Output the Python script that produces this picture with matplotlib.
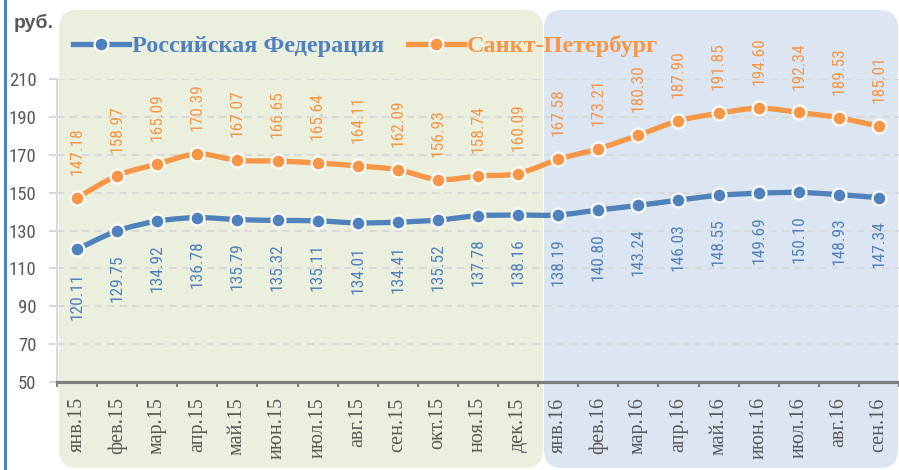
import numpy as np
import matplotlib
matplotlib.use('Agg')
import matplotlib.pyplot as plt
from matplotlib.patches import FancyBboxPatch, PathPatch
from matplotlib.path import Path
from matplotlib.transforms import IdentityTransform
from matplotlib.lines import Line2D
from matplotlib import font_manager as fm

# ---------------- data ----------------
months = ['янв.15', 'фев.15', 'мар.15', 'апр.15', 'май.15', 'июн.15', 'июл.15',
          'авг.15', 'сен.15', 'окт.15', 'ноя.15', 'дек.15',
          'янв.16', 'фев.16', 'мар.16', 'апр.16', 'май.16', 'июн.16', 'июл.16',
          'авг.16', 'сен.16']
rf_values = [120.11, 129.75, 134.92, 136.78, 135.79, 135.32, 135.11, 134.01, 134.41,
             135.52, 137.78, 138.16, 138.19, 140.80, 143.24, 146.03, 148.55, 149.69,
             150.10, 148.93, 147.34]
spb_values = [147.18, 158.97, 165.09, 170.39, 167.07, 166.65, 165.64, 164.11, 162.09,
              156.93, 158.74, 160.09, 167.58, 173.21, 180.30, 187.90, 191.85, 194.60,
              192.34, 189.53, 185.01]
rf_name = 'Российская Федерация'
spb_name = 'Санкт-Петербург'
y_ticks = [50, 70, 90, 110, 130, 150, 170, 190, 210]
unit_label = 'руб.'

BLUE = '#4F81BD'
ORANGE = '#F79646'
GREY_TXT = '#595959'

# ---------------- fonts ----------------
names = {f.name for f in fm.fontManager.ttflist}
cond = None
for cand in ['Liberation Sans Narrow', 'Roboto Condensed', 'Open Sans Condensed',
             'DejaVu Sans Condensed']:
    if cand in names:
        cond = dict(family=cand)
        break
if cond is None:
    if any(f.name == 'DejaVu Sans' and 'condensed' in str(f.stretch) for f in fm.fontManager.ttflist):
        cond = dict(family='DejaVu Sans', stretch='condensed')
    else:
        cond = dict(family='DejaVu Sans')

W, H = 899, 470
fig = plt.figure(figsize=(W / 100, H / 100), dpi=100)
fig.patch.set_facecolor('white')

# background panels (pixel coordinates)
green = FancyBboxPatch((59, 2), 484, 458, boxstyle='round,pad=0,rounding_size=18',
                       transform=IdentityTransform(), facecolor='#EBEFDE',
                       edgecolor='none', zorder=-5)
blue = FancyBboxPatch((544, 2), 354, 458, boxstyle='round,pad=0,rounding_size=18',
                      transform=IdentityTransform(), facecolor='#DCE6F2',
                      edgecolor='none', zorder=-5)
fig.add_artist(green)
fig.add_artist(blue)
fig.add_artist(Line2D([4.5 / W, 4.5 / W], [0, 1], transform=fig.transFigure,
                      color=BLUE, lw=2.2, zorder=-4))

ax_left, ax_right, ax_top, ax_bot = 57, 899, 79, 382
ax = fig.add_axes([ax_left / W, (H - ax_bot) / H, (ax_right - ax_left) / W,
                   (ax_bot - ax_top) / H])
ax.set_facecolor('none')

n = len(months)
x = np.arange(n)
step = 40.3
ax.set_xlim(-0.5, -0.5 + (ax_right - ax_left) / step)
ax.set_ylim(50, 210)


def smooth_path(xs, ys):
    xs = list(xs); ys = list(ys)
    verts = [(xs[0], ys[0])]
    codes = [Path.MOVETO]
    m = len(xs)
    for i in range(m - 1):
        p0 = i - 1 if i > 0 else i
        p3 = i + 2 if i + 2 < m else i + 1
        c1 = (xs[i] + (xs[i + 1] - xs[p0]) / 6, ys[i] + (ys[i + 1] - ys[p0]) / 6)
        c2 = (xs[i + 1] - (xs[p3] - xs[i]) / 6, ys[i + 1] - (ys[p3] - ys[i]) / 6)
        verts += [c1, c2, (xs[i + 1], ys[i + 1])]
        codes += [Path.CURVE4] * 3
    return Path(verts, codes)


for vals, col in [(rf_values, BLUE), (spb_values, ORANGE)]:
    ax.add_patch(PathPatch(smooth_path(x, vals), fill=False, edgecolor=col, lw=3.8,
                           capstyle='round', joinstyle='round', zorder=3))
    ax.plot(x, vals, 'o', ms=10, mfc=col, mec='white', mew=1.6, zorder=4,
            clip_on=False)

for i, v in enumerate(spb_values):
    ax.annotate(f'{v:.2f}', (i, v), xytext=(0, 16.5), textcoords='offset points',
                rotation=90, ha='center', va='bottom', fontsize=12.5, color=ORANGE,
                annotation_clip=False, zorder=5, **cond)
for i, v in enumerate(rf_values):
    ax.annotate(f'{v:.2f}', (i, v), xytext=(0, -16.5), textcoords='offset points',
                rotation=90, ha='center', va='top', fontsize=12.5, color=BLUE,
                annotation_clip=False, zorder=5, **cond)

# axes styling
ax.set_yticks(y_ticks)
ax.set_yticklabels([str(t) for t in y_ticks], fontsize=13.5, color=GREY_TXT, **cond)
ax.yaxis.grid(True, color='#D9D9D9', lw=1.5, ls=(0, (3.5, 2.5)), zorder=0)
ax.set_axisbelow(True)
ax.tick_params(axis='y', length=5.8, width=1.5, color='#D9D9D9', pad=9)

ax.set_xticks(x)
ax.set_xticklabels(months, rotation=90, fontsize=14.5, color=GREY_TXT,
                   family='Liberation Serif', va='top', ha='center')
ax.set_xticks(np.arange(-0.5, n + 0.5, 1), minor=True)
ax.tick_params(axis='x', which='major', length=0, pad=11)
ax.tick_params(axis='x', which='minor', length=3.5, width=1.5, color='#7F7F7F')

for s in ['top', 'right']:
    ax.spines[s].set_visible(False)
ax.spines['left'].set_color('#D9D9D9')
ax.spines['left'].set_linewidth(1.5)
ax.spines['bottom'].set_color('#7F7F7F')
ax.spines['bottom'].set_linewidth(2.3)

# legend
handles = [Line2D([], [], color=BLUE, lw=3.8, marker='o', ms=10, mfc=BLUE, mec='white', mew=1.6),
           Line2D([], [], color=ORANGE, lw=3.8, marker='o', ms=10, mfc=ORANGE, mec='white', mew=1.6)]
leg = fig.legend(handles, [rf_name, spb_name], loc='center left',
                 bbox_to_anchor=(73 / W, 1 - 46 / H), ncol=2, frameon=False,
                 handlelength=2.3, handletextpad=0.12, columnspacing=1.0,
                 borderpad=0, borderaxespad=0,
                 prop=dict(family='Liberation Serif', weight='bold', size=17.5))
for t, c in zip(leg.get_texts(), [BLUE, ORANGE]):
    t.set_color(c)

fig.text(14 / W, 1 - 23 / H, unit_label, fontsize=14, fontweight='bold', color=GREY_TXT,
         family='Liberation Sans', va='center', ha='left')

fig.savefig('out.png', dpi=100)
